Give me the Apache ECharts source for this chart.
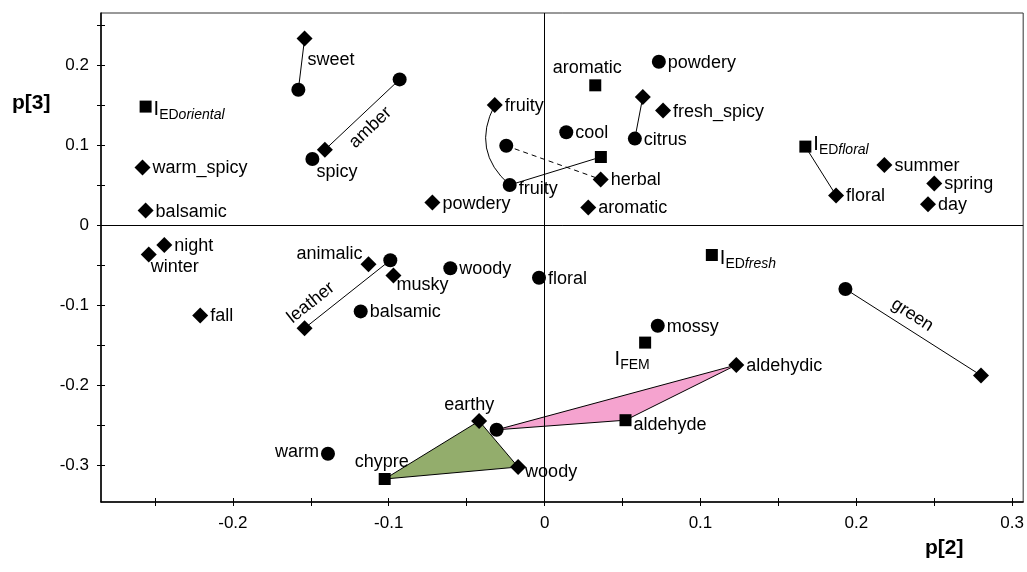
<!DOCTYPE html>
<html><head><meta charset="utf-8">
<script src="https://cdn.jsdelivr.net/npm/echarts@6/dist/echarts.min.js"></script>
<style>html,body{margin:0;padding:0;background:#fff}#c{width:1027px;height:572px}</style>
</head><body><div id="c"></div>
<script>
// ================= DATA =================
// Diamonds
const diamondIds    = ['d1','d2','d3','d4','d5','d6','d7','d8','d9','d10','d11','d12','d13','d14','d15','d16','d17','d18','d19','d20','d21','d22','d23','d24'];
const diamondLabels = ['sweet','','warm_spicy','balsamic','fruity','','fresh_spicy','herbal','powdery','aromatic','floral','summer','spring','day','night','winter','fall','animalic','musky','','','aldehydic','earthy','woody'];
const diamondX      = [-0.154,-0.141,-0.258,-0.256,-0.032,0.063,0.076,0.036,-0.072,0.028,0.187,0.218,0.250,0.246,-0.244,-0.254,-0.221,-0.113,-0.097,-0.154,0.280,0.123,-0.042,-0.017];
const diamondY      = [0.233,0.094,0.072,0.018,0.150,0.160,0.143,0.057,0.028,0.022,0.037,0.075,0.052,0.026,-0.025,-0.037,-0.113,-0.049,-0.063,-0.129,-0.188,-0.175,-0.245,-0.3025];
// Circles
const circleIds    = ['c1','c2','c3','c4','c5','c6','c7','c8','c9','c10','c11','c12','c13','c14','c15','c16'];
const circleLabels = ['','','spicy','powdery','cool','citrus','','fruity','','balsamic','woody','floral','mossy','','warm',''];
const circleX      = [-0.158,-0.093,-0.149,0.0733,0.0139,0.0579,-0.0246,-0.0224,-0.099,-0.118,-0.0605,-0.0036,0.0726,0.193,-0.139,-0.0308];
const circleY      = [0.169,0.182,0.0825,0.204,0.116,0.108,0.099,0.050,-0.044,-0.108,-0.054,-0.066,-0.126,-0.080,-0.286,-0.256];
// Squares
const squareIds    = ['s1','s2','s3','s4','s5','s6','s7','s8'];
const squareLabels = ['I|ED|oriental','aromatic','','I|ED|floral','I|ED|fresh','I|FEM|','aldehyde','chypre'];
const squareX      = [-0.256,0.0325,0.0361,0.1673,0.1073,0.0645,0.0519,-0.1026];
const squareY      = [0.148,0.1746,0.085,0.098,-0.0375,-0.147,-0.244,-0.3175];
// Connections between points
const linkFrom  = ['d1','d2','d5','c7','c8','d6','s4','d20','c14'];
const linkTo    = ['c1','c2','c8','d8','s3','c6','d11','c9','d21'];
const linkText  = ['','amber','','','','','','leather','green'];
// Polygons
const polygonVertices = [['s8','d23','d24'], ['c16','d22','s7']];
// Axis ticks
const xTickValues  = [-0.25,-0.2,-0.15,-0.1,-0.05,0,0.05,0.1,0.15,0.2,0.25,0.3];
const xLabelValues = [-0.2,-0.1,0,0.1,0.2,0.3];
const yTickValues  = [-0.35,-0.3,-0.25,-0.2,-0.15,-0.1,-0.05,0,0.05,0.1,0.15,0.2,0.25];
const yLabelValues = [-0.3,-0.2,-0.1,0,0.1,0.2];
const xAxisTitle = 'p[2]';
const yAxisTitle = 'p[3]';

// ================= STYLE / LAYOUT =================
const FONT = 'Liberation Sans, Arial, sans-serif';
const X_MIN = -0.28462, X_MAX = 0.30705, Y_MIN = -0.34625, Y_MAX = 0.265;
const labelPlace = {
  d1:{off:[-7,21]}, d16:{off:[-8,12]}, d18:{pos:'left',off:[4,-10]}, d19:{off:[-7,10]},
  d23:{pos:'top',off:[-10,3]}, d24:{off:[-3,5]}, c3:{off:[-5,13]}, c8:{off:[0,4]},
  c15:{pos:'left',off:[0,-2]}, s2:{pos:'top',off:[-8,0]}, s6:{pos:'bottom',off:[-13,-4]},
  s7:{off:[0,5]}, s8:{pos:'top',off:[-3,0]}, s1:{off:[0,3]}, s4:{off:[0,-2]}, s5:{off:[0,3]}
};
const linkDraw = [{}, {along:-3, perp:15}, {bend:32}, {dash:[5,4]}, {}, {}, {}, {along:-34, perp:-16}, {along:-10, perp:-14}];
const polygonFill = ['#93ad6c', '#f5a3cf'];

// ================= BUILD =================
const pos = {};
diamondIds.forEach((id,k)=>pos[id]=[diamondX[k],diamondY[k]]);
circleIds.forEach((id,k)=>pos[id]=[circleX[k],circleY[k]]);
squareIds.forEach((id,k)=>pos[id]=[squareX[k],squareY[k]]);

function richText(l){
  if (l.indexOf('|')<0) return l;
  const p = l.split('|');
  return '{i|'+p[0]+'}{s|'+p[1]+'}'+(p[2]?'{si|'+p[2]+'}':'');
}
const rich = {
  i:{fontSize:20, fontFamily:FONT, color:'#000'},
  s:{fontSize:14, fontFamily:FONT, color:'#000', padding:[12,0,0,0]},
  si:{fontSize:14, fontFamily:FONT, color:'#000', fontStyle:'italic', padding:[12,0,0,0]}
};
function buildScatter(ids, labels, xs, ys){
  return ids.map((id,k)=>{
    const p = labelPlace[id] || {};
    return {value:[xs[k],ys[k]], label: labels[k] ? {show:true, formatter: richText(labels[k]), position:p.pos||'right', offset:p.off||[0,1], distance:2} : {show:false}};
  });
}
const linkData = linkFrom.map((f,k)=>[pos[f][0],pos[f][1],pos[linkTo[k]][0],pos[linkTo[k]][1]]);
const polyData = polygonVertices.map(v=>[].concat(...v.map(id=>pos[id])));

function renderLink(params, api){
  const i = params.dataIndex;
  const a = api.coord([api.value(0), api.value(1)]);
  const b = api.coord([api.value(2), api.value(3)]);
  const st = linkDraw[i] || {};
  const ch = [];
  if (st.bend){
    const mx=(a[0]+b[0])/2, my=(a[1]+b[1])/2, dx=b[0]-a[0], dy=b[1]-a[1], L=Math.hypot(dx,dy);
    const nx=-dy/L, ny=dx/L;
    ch.push({type:'bezierCurve', shape:{x1:a[0],y1:a[1],x2:b[0],y2:b[1],cpx1:mx+nx*st.bend,cpy1:my+ny*st.bend}, style:{stroke:'#000',fill:null,lineWidth:1}});
  } else {
    ch.push({type:'line', shape:{x1:a[0],y1:a[1],x2:b[0],y2:b[1]}, style:{stroke:'#000',lineWidth:1,lineDash:st.dash||null}});
  }
  const t = linkText[i];
  if (t){
    let p1=a, p2=b;
    if (b[0]<a[0]){p1=b;p2=a;}
    const th = Math.atan2(p2[1]-p1[1], p2[0]-p1[0]);
    const ux=Math.cos(th), uy=Math.sin(th), nx=-uy, ny=ux;
    const mx=(p1[0]+p2[0])/2, my=(p1[1]+p2[1])/2;
    const al=st.along||0, pp=st.perp||0;
    ch.push({type:'text', x:mx+ux*al+nx*pp, y:my+uy*al+ny*pp, rotation:-th,
      style:{text:t, fontSize:18, fontFamily:FONT, fill:'#000', align:'center', verticalAlign:'middle'}});
  }
  return {type:'group', children:ch};
}
function renderPoly(params, api){
  const pts=[];
  for (let k=0;k<6;k+=2) pts.push(api.coord([api.value(k), api.value(k+1)]));
  return {type:'polygon', shape:{points:pts}, style:{fill:polygonFill[params.dataIndex], stroke:'#000', lineWidth:1}};
}
const fmt = v => String(Math.round(v*10)/10);

const chart = echarts.init(document.getElementById('c'), null, {renderer:'canvas'});
const axisCommon = {type:'value', splitLine:{show:false}};
chart.setOption({
  animation:false,
  backgroundColor:'#fff',
  grid:{left:101, right:3, top:13, bottom:70, show:true, borderColor:'#333', borderWidth:1, containLabel:false},
  xAxis:[
    Object.assign({}, axisCommon, {min:X_MIN, max:X_MAX, position:'bottom',
      axisLine:{show:true, onZero:false, lineStyle:{color:'#000', width:1.5}},
      axisTick:{show:true, length:4, inside:false, customValues:xTickValues, lineStyle:{color:'#000'}},
      axisLabel:{show:true, customValues:xLabelValues, formatter:fmt, fontSize:17, fontFamily:FONT, color:'#000', margin:13}}),
    Object.assign({}, axisCommon, {min:X_MIN, max:X_MAX, position:'bottom',
      axisLine:{show:false, onZero:false}, axisLabel:{show:false},
      axisTick:{show:true, length:4, inside:true, customValues:xTickValues, lineStyle:{color:'#000'}}})
  ],
  yAxis:[
    Object.assign({}, axisCommon, {min:Y_MIN, max:Y_MAX, position:'left',
      axisLine:{show:true, onZero:false, lineStyle:{color:'#000', width:1.5}},
      axisTick:{show:true, length:4, inside:false, customValues:yTickValues, lineStyle:{color:'#000'}},
      axisLabel:{show:true, customValues:yLabelValues, formatter:fmt, fontSize:17, fontFamily:FONT, color:'#000', margin:12}}),
    Object.assign({}, axisCommon, {min:Y_MIN, max:Y_MAX, position:'left',
      axisLine:{show:false, onZero:false}, axisLabel:{show:false},
      axisTick:{show:true, length:4, inside:true, customValues:yTickValues, lineStyle:{color:'#000'}}})
  ],
  graphic:[
    {type:'text', left:925, top:538, style:{text:xAxisTitle, font:'bold 21px '+FONT, fill:'#000'}},
    {type:'text', left:12, top:93, style:{text:yAxisTitle, font:'bold 21px '+FONT, fill:'#000'}}
  ],
  series:[
    {type:'custom', name:'polygons', renderItem:renderPoly, data:polyData, z:2, silent:true,
      encode:{x:[0,2,4], y:[1,3,5]}},
    {type:'custom', name:'links', renderItem:renderLink, data:linkData, z:3, silent:true,
      encode:{x:[0,2], y:[1,3]},
      markLine:{silent:true, symbol:'none', label:{show:false}, lineStyle:{color:'#000', width:1, type:'solid'},
        data:[{xAxis:0},{yAxis:0}]}},
    {type:'scatter', name:'diamond', symbol:'diamond', symbolSize:16, itemStyle:{color:'#000', opacity:1}, z:4,
      label:{fontSize:18, fontFamily:FONT, color:'#000', rich:rich},
      data:buildScatter(diamondIds, diamondLabels, diamondX, diamondY)},
    {type:'scatter', name:'circle', symbol:'circle', symbolSize:14, itemStyle:{color:'#000', opacity:1}, z:4,
      label:{fontSize:18, fontFamily:FONT, color:'#000', rich:rich},
      data:buildScatter(circleIds, circleLabels, circleX, circleY)},
    {type:'scatter', name:'square', symbol:'rect', symbolSize:12, itemStyle:{color:'#000', opacity:1}, z:4,
      label:{fontSize:18, fontFamily:FONT, color:'#000', rich:rich},
      data:buildScatter(squareIds, squareLabels, squareX, squareY)}
  ]
});
</script></body></html>
